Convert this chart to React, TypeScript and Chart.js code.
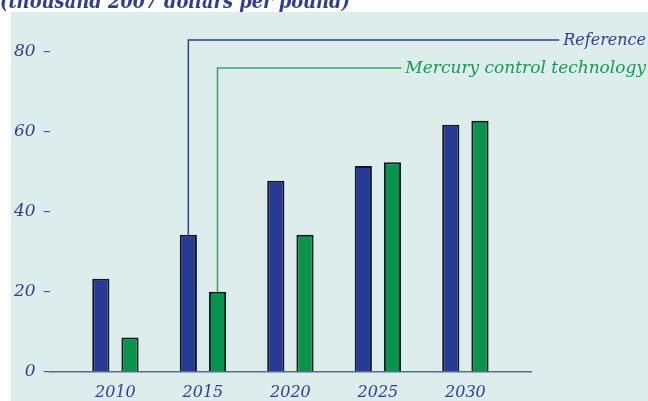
import React, { useEffect, useRef } from "react";
import { Chart, registerables } from "chart.js";

Chart.register(...registerables);

const years = [2010, 2015, 2020, 2025, 2030];
const referenceValues = [23.3, 34.3, 47.8, 51.5, 61.8];
const mercuryValues = [8.6, 20.0, 34.3, 52.4, 62.8];
const yTicks = [0, 20, 40, 60, 80];
const titleText = "(thousand 2007 dollars per pound)";
const seriesNames = ["Reference", "Mercury control technology"];

const BLUE = "#263a96";
const GREEN = "#08944a";
const TEXT_BLUE = "#2e3e95";
const TEXT_GREEN = "#169a52";
const PANEL = "#dcedec";
const FONT = "'DejaVu Serif', serif";

const decorPlugin = {
  id: "decor",
  beforeDraw(chart: any) {
    const ctx = chart.ctx;
    ctx.save();
    ctx.fillStyle = "#ffffff";
    ctx.fillRect(0, 0, chart.width, chart.height);
    ctx.fillStyle = PANEL;
    ctx.fillRect(11, 12, chart.width - 11, chart.height - 12);
    ctx.fillStyle = TEXT_BLUE;
    ctx.font = `italic bold 21px ${FONT}`;
    ctx.textBaseline = "alphabetic";
    ctx.textAlign = "left";
    ctx.fillText(titleText, 0, 8, 350);
    ctx.restore();
  },
  afterDatasetsDraw(chart: any) {
    const ctx = chart.ctx;
    const top = chart.chartArea.top;
    const specs = [
      { ds: 0, y: top - 12, color: "#2f3f94", text: TEXT_BLUE, size: 16 },
      { ds: 1, y: top + 16, color: "#3aa066", text: TEXT_GREEN, size: 17 },
    ];
    ctx.save();
    ctx.textBaseline = "middle";
    ctx.textAlign = "right";
    specs.forEach((s) => {
      ctx.font = `italic ${s.size}px ${FONT}`;
      const bar = chart.getDatasetMeta(s.ds).data[1];
      const name = seriesNames[s.ds];
      const right = chart.width - 2;
      const w = ctx.measureText(name).width;
      ctx.strokeStyle = s.color;
      ctx.lineWidth = 1.5;
      ctx.beginPath();
      ctx.moveTo(bar.x, bar.y);
      ctx.lineTo(bar.x, s.y);
      ctx.lineTo(right - w - 4, s.y);
      ctx.stroke();
      ctx.fillStyle = s.text;
      ctx.fillText(name, right, s.y + 1);
    });
    ctx.restore();
  },
};

export default function App() {
  const ref = useRef<HTMLCanvasElement>(null);
  useEffect(() => {
    if (!ref.current) return;
    const chart = new Chart(ref.current, {
      type: "bar",
      data: {
        datasets: [
          {
            label: seriesNames[0],
            data: years.map((x, i) => ({ x, y: referenceValues[i] })),
            backgroundColor: BLUE,
            borderColor: "#141820",
            borderWidth: 2,
            categoryPercentage: 0.667,
            barPercentage: 0.59,
          },
          {
            label: seriesNames[1],
            data: years.map((x, i) => ({ x, y: mercuryValues[i] })),
            backgroundColor: GREEN,
            borderColor: "#141820",
            borderWidth: 2,
            categoryPercentage: 0.667,
            barPercentage: 0.59,
          },
        ],
      },
      options: {
        responsive: false,
        animation: false,
        devicePixelRatio: 1,
        layout: { padding: { left: 6, right: 117, top: 52, bottom: -12 } },
        plugins: { legend: { display: false }, tooltip: { enabled: false } },
        scales: {
          x: {
            type: "linear",
            offset: false,
            min: 2006.24,
            max: 2033.75,
            afterBuildTicks: (scale: any) => {
              scale.ticks = years.map((v) => ({ value: v }));
            },
            grid: { display: false, drawTicks: false, offset: false },
            border: { display: true, color: "#5468aa", width: 1.5 },
            ticks: {
              color: TEXT_BLUE,
              font: { family: FONT, style: "italic", size: 16 },
              padding: 11,
              callback: (v: any) => String(v),
            },
          },
          y: {
            min: 0,
            max: 80,
            afterBuildTicks: (scale: any) => {
              scale.ticks = yTicks.map((v) => ({ value: v }));
            },
            grid: {
              drawOnChartArea: false,
              drawTicks: true,
              tickLength: 6,
              color: "#4c5da3",
              lineWidth: 1.2,
            },
            border: { display: false },
            ticks: {
              color: TEXT_BLUE,
              font: { family: FONT, style: "italic", size: 17 },
              padding: 8,
            },
          },
        },
      },
      plugins: [decorPlugin],
    });
    return () => chart.destroy();
  }, []);
  return (
    <div style={{ position: "absolute", left: 0, top: 0, width: 648, height: 401 }}>
      <canvas ref={ref} width={648} height={401} style={{ display: "block" }} />
    </div>
  );
}
